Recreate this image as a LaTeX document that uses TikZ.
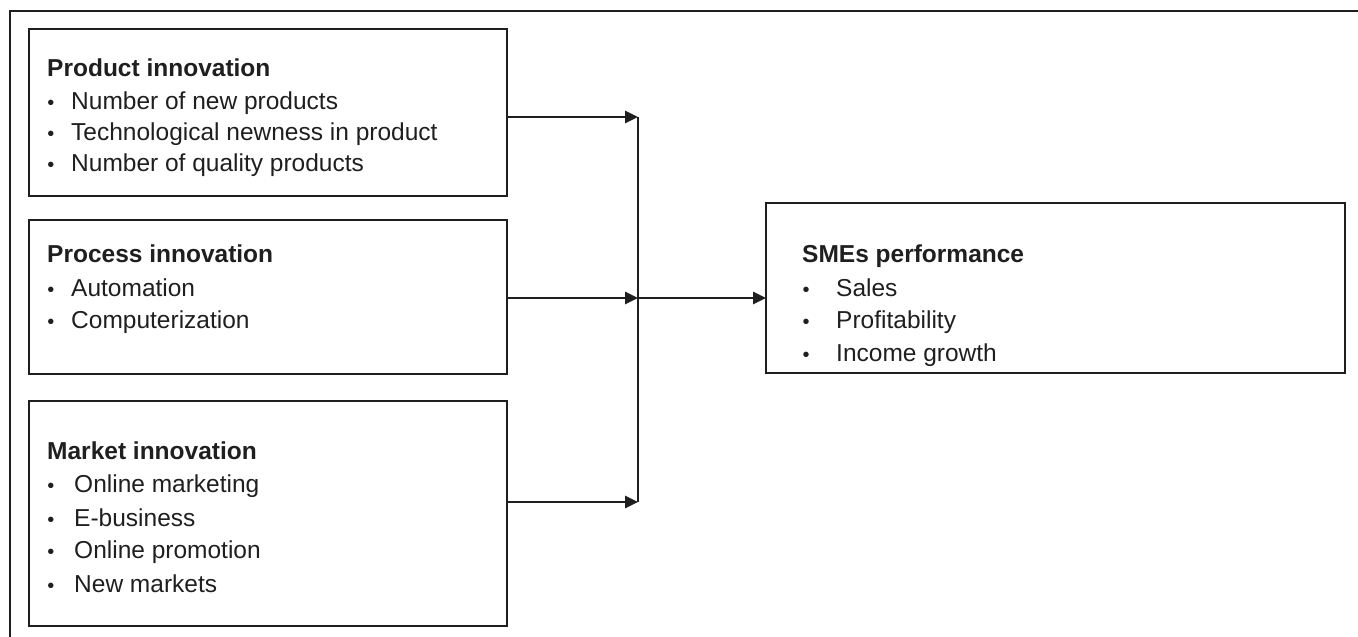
\documentclass[tikz,border=0pt]{standalone}
\usepackage{fontspec}
\setmainfont{Liberation Sans}
\usetikzlibrary{arrows.meta}
\tikzset{
  x=1pt, y=-1pt,
  box/.style={draw=black!88, line width=2.8pt},
  ttl/.style={anchor=base west, inner sep=0pt, font=\fontsize{24.5}{24.5}\selectfont\bfseries, text=black!88},
  itm/.style={anchor=base west, inner sep=0pt, font=\fontsize{24.5}{24.5}\selectfont, text=black!88},
  bul/.style={anchor=base, inner sep=0pt, font=\fontsize{20}{20}\selectfont, text=black!88},
  arr/.style={draw=black!88, line width=2.6pt, -{Triangle[length=13pt,width=12pt]}},
  ln/.style={draw=black!88, line width=2.6pt}
}
\begin{document}
\begin{tikzpicture}
\useasboundingbox (0,0) rectangle (1358,637);
% outer frame (top and left only)
\coordinate (fl) at (10,637);
\coordinate (fc) at (10,11);
\coordinate (fr) at (1358,11);
\draw[line width=2.6pt, draw=black!88] (fl) -- (fc) -- (fr);
% boxes
\draw[box] (29,29) rectangle (507,196);
\coordinate (pbR) at (507,117);
\draw[box] (29,220) rectangle (507,374);
\coordinate (qbR) at (507,298);
\draw[box] (29,401) rectangle (507,626);
\coordinate (mbR) at (507,502);
\draw[box] (766,203) rectangle (1345,373);
\coordinate (sbL) at (766,298);
% product
\node[ttl] (p0) at (47,76) {Product innovation};
\node[bul] (pb1) at (51,109) {•}; \node[itm] (p1) at (71,109) {Number of new products};
\node[bul] (pb2) at (51,140) {•}; \node[itm] (p2) at (71,140) {Technological newness in product};
\node[bul] (pb3) at (51,171) {•}; \node[itm] (p3) at (71,171) {Number of quality products};
% process
\node[ttl] (q0) at (47,262) {Process innovation};
\node[bul] (qb1) at (51,296) {•}; \node[itm] (q1) at (71,296) {Automation};
\node[bul] (qb2) at (51,328) {•}; \node[itm] (q2) at (71,328) {Computerization};
% market
\node[ttl] (m0) at (47,459) {Market innovation};
\node[bul] (mb1) at (51,492) {•}; \node[itm] (m1) at (74,492) {Online marketing};
\node[bul] (mb2) at (51,526) {•}; \node[itm] (m2) at (74,526) {E-business};
\node[bul] (mb3) at (51,558) {•}; \node[itm] (m3) at (74,558) {Online promotion};
\node[bul] (mb4) at (51,592) {•}; \node[itm] (m4) at (74,592) {New markets};
% SMEs
\node[ttl] (s0) at (802,262) {SMEs performance};
\node[bul] (sb1) at (806,296) {•}; \node[itm] (s1) at (836,296) {Sales};
\node[bul] (sb2) at (806,328) {•}; \node[itm] (s2) at (836,328) {Profitability};
\node[bul] (sb3) at (806,361) {•}; \node[itm] (s3) at (836,361) {Income growth};
% connectors
\coordinate (jt) at (638,117);
\coordinate (jm) at (638,298);
\coordinate (jb) at (638,502);
\draw[ln] (jt) -- (jb);
\draw[arr] (pbR) -- (jt);
\draw[arr] (qbR) -- (jm);
\draw[arr] (mbR) -- (jb);
\draw[arr] (jm) -- (sbL);
\end{tikzpicture}
\end{document}
